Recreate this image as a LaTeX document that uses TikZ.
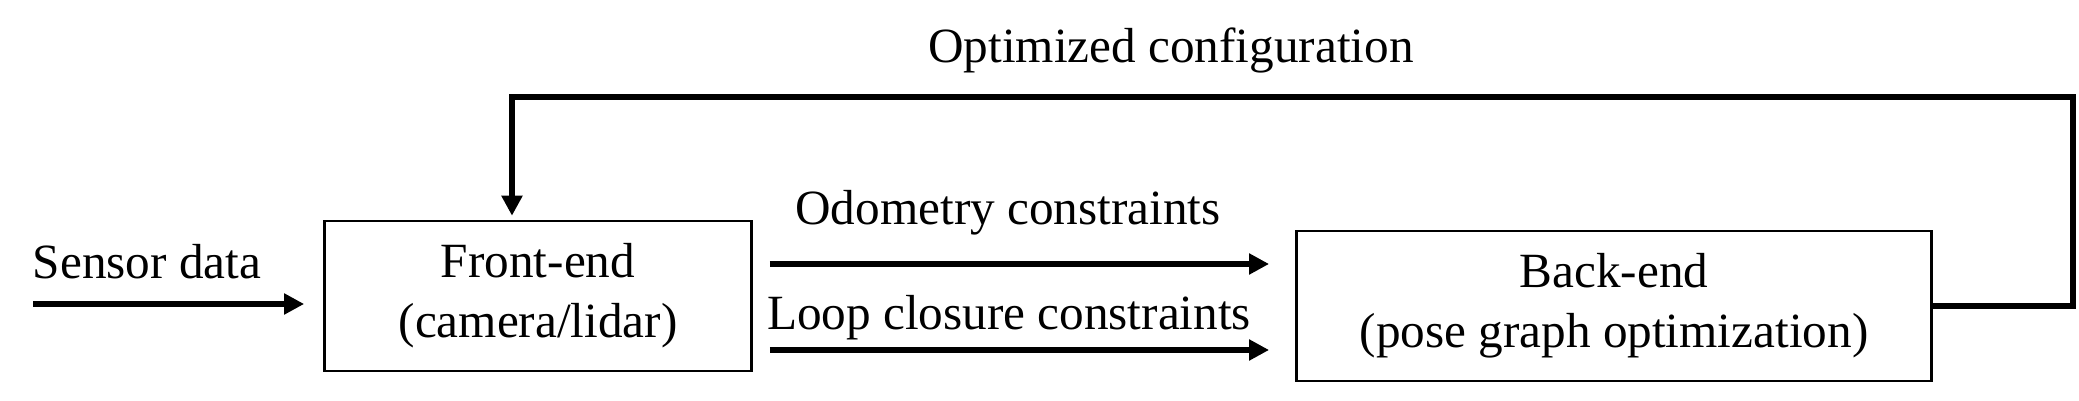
\documentclass[tikz,border=0pt]{standalone}
\usepackage{fontspec}
\setmainfont{Liberation Serif}
\usetikzlibrary{arrows.meta}
\usetikzlibrary{positioning}

\begin{document}
\begin{tikzpicture}[
    x=0.01cm, y=-0.01cm,
    every node/.style={font=\fontsize{14pt}{17pt}\selectfont, inner sep=0pt},
    block style/.style={draw, line width=0.7pt, align=center},
    flow style/.style={line width=1.7pt, -{Triangle[length=0.2cm, width=0.2cm]}}
]
    \useasboundingbox (0,0) rectangle (2079,401);

    % Blocks
    \node[block style, minimum width=4.27cm, minimum height=1.5cm] (front_end) at (538,296) {Front-end\\(camera/lidar)};
    \node[block style, minimum width=6.35cm, minimum height=1.5cm] (back_end) at (1614,306) {Back-end\\(pose graph optimization)};

    % Labels
    \node (sensor_label) at (147,262) {Sensor data};
    \node (odo_label) at (1008,213) {Odometry constraints};
    \node (loop_label) at (1009,318) {Loop closure constraints};
    \node (opt_label) at (1171,50) {Optimized configuration};

    % Input
    \coordinate (sensor_start) at (33,304);
    \draw[flow style, shorten >=0.19cm] (sensor_start) -- (front_end.west |- sensor_start);

    % Front-end to back-end
    \draw[flow style] ([xshift=0.17cm]front_end.east |- 0,264) -- ([xshift=-0.26cm]back_end.west |- 0,264);
    \draw[flow style] ([xshift=0.17cm]front_end.east |- 0,350) -- ([xshift=-0.26cm]back_end.west |- 0,350);

    % Feedback loop
    \coordinate (loop_corner) at (2073,97);
    \draw[flow style, shorten >=0.04cm] (back_end.east) -| (loop_corner) -| ([xshift=-0.26cm]front_end.north);

\end{tikzpicture}
\end{document}
